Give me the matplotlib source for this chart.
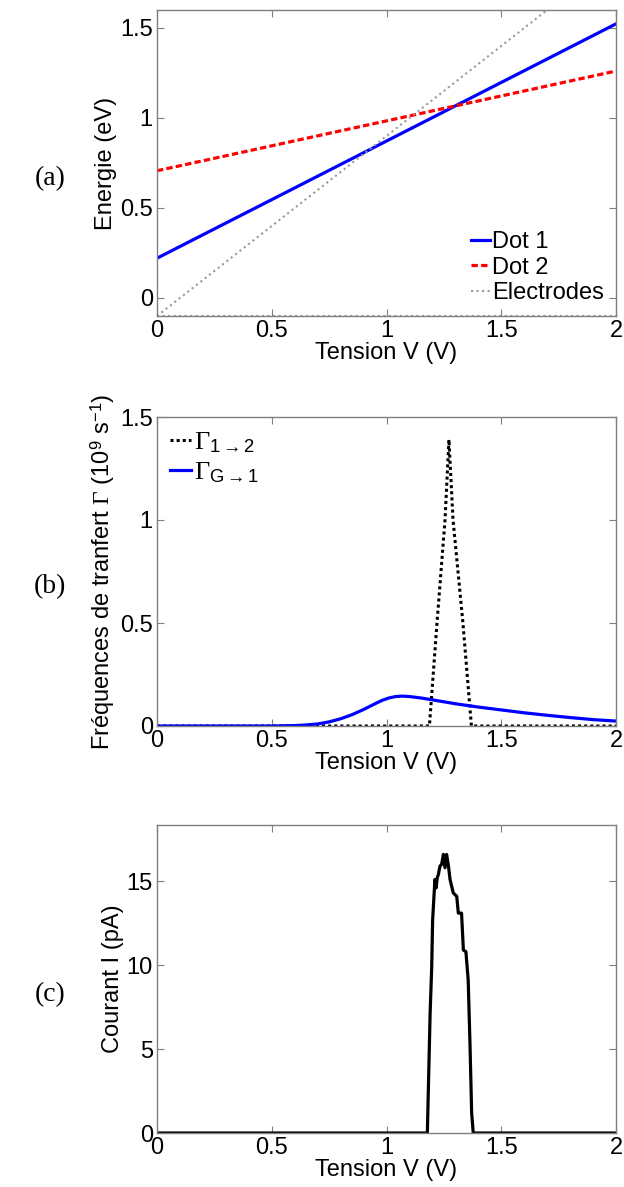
import matplotlib
matplotlib.use("Agg")
import matplotlib.pyplot as plt
import numpy as np

plt.rcParams['font.family'] = ['Liberation Sans', 'DejaVu Sans']
plt.rcParams['mathtext.fontset'] = 'custom'
plt.rcParams['mathtext.rm'] = 'Liberation Serif'
plt.rcParams['mathtext.sf'] = 'Liberation Sans'
plt.rcParams['mathtext.it'] = 'Liberation Serif:italic'

# ---- data (a) ----
v_lines = [0.0, 2.0]
dot1 = [0.221, 1.523]
dot2 = [0.707, 1.261]
electrode_v = [0.0, 1.70]
electrode_e = [-0.10, 1.60]
electrode0_e = [-0.10, -0.10]

# ---- data (b) ----
v_g12 = [0.0, 1.187, 1.22, 1.255, 1.272, 1.29, 1.333, 1.37, 2.0]
g12 = [0.0, 0.0, 0.5, 1.0, 1.39, 1.0, 0.5, 0.0, 0.0]
v_gG1 = [0.0, 0.5, 0.6, 0.65, 0.7, 0.75, 0.8, 0.85, 0.9, 0.95, 0.98, 1.01, 1.04,
         1.07, 1.1, 1.15, 1.2, 1.3, 1.4, 1.5, 1.6, 1.7, 1.8, 1.9, 2.0]
gG1 = [0.0, 0.0, 0.002, 0.005, 0.010, 0.020, 0.035, 0.055, 0.080, 0.108, 0.124,
       0.136, 0.143, 0.145, 0.143, 0.136, 0.127, 0.108, 0.092, 0.078, 0.064,
       0.052, 0.041, 0.031, 0.024]

# ---- data (c) ----
v_cur = [0.0, 1.178, 1.19, 1.197, 1.201, 1.211, 1.216, 1.221, 1.226, 1.233, 1.240,
         1.248, 1.255, 1.262, 1.270, 1.277, 1.291, 1.306, 1.313, 1.327, 1.335,
         1.346, 1.356, 1.364, 1.371, 1.378, 2.0]
cur = [0.0, 0.0, 7.1, 9.9, 12.7, 15.1, 14.6, 15.2, 15.4, 15.9, 16.0,
       16.6, 15.8, 16.6, 15.9, 15.1, 14.3, 14.1, 13.1, 13.1, 10.9,
       10.8, 9.1, 5.2, 1.2, 0.0, 0.0]

xticks = [0, 0.5, 1, 1.5, 2]
xticklabels = ['0', '0.5', '1', '1.5', '2']

W, H = 624, 1187
fig = plt.figure(figsize=(W / 100, H / 100), dpi=100)

def px_axes(top, bottom, left=157, right=616):
    return fig.add_axes([left / W, 1 - bottom / H, (right - left) / W, (bottom - top) / H])

FS = 17
axc = '#7f7f7f'

def style(ax, yt, ytl, ylim):
    ax.set_xlim(0, 2)
    ax.set_ylim(*ylim)
    ax.set_xticks(xticks)
    ax.set_xticklabels(xticklabels)
    ax.set_yticks(yt)
    ax.set_yticklabels(ytl)
    ax.tick_params(direction='in', top=True, right=True, length=5, width=0.8,
                   color=axc, labelsize=FS, pad=3)
    for s in ax.spines.values():
        s.set_color(axc)
        s.set_linewidth(1.0)
    ax.set_xlabel('Tension V (V)', fontsize=FS, labelpad=0)

# (a)
ax1 = px_axes(10, 316)
ax1.plot(v_lines, dot1, color='#0000ff', lw=2.3, label='Dot 1')
ax1.plot(v_lines, dot2, color='#ff0000', lw=2.3, ls=(0, (2, 1)), label='Dot 2')
ax1.plot(electrode_v, electrode_e, color='#999999', lw=1.5, ls=':', label='Electrodes')
ax1.plot(v_lines, electrode0_e, color='#999999', lw=1.5, ls=':')
style(ax1, [0, 0.5, 1, 1.5], ['0', '0.5', '1', '1.5'], (-0.1, 1.6))
ax1.set_ylabel('Energie (eV)', fontsize=FS, labelpad=2)
ax1.legend(loc='lower right', frameon=False, fontsize=FS, handlelength=0.8,
           handletextpad=0.1, labelspacing=0.15, borderaxespad=0.1)

# (b)
ax2 = px_axes(417, 726)
ax2.plot(v_g12, g12, color='black', lw=2.2, ls=(0, (1, 1)),
         label=r'$\Gamma_{\mathsf{1{\rightarrow}2}}$')
ax2.plot(v_gG1, gG1, color='#0000ff', lw=2.3,
         label=r'$\Gamma_{\mathsf{G{\rightarrow}1}}$')
style(ax2, [0, 0.5, 1, 1.5], ['0', '0.5', '1', '1.5'], (0, 1.5))
ax2.set_ylabel(r'Fréquences de tranfert $\Gamma$ (10$^{\mathsf{9}}$ s$^{\mathsf{-1}}$)',
               fontsize=FS, labelpad=2)
ax2.legend(loc='upper left', frameon=False, fontsize=FS + 2, handlelength=0.8,
           handletextpad=0.1, labelspacing=0.2, borderaxespad=0.1)

# (c)
ax3 = px_axes(825, 1133)
ax3.plot(v_cur, cur, color='black', lw=2.3)
style(ax3, [0, 5, 10, 15], ['0', '5', '10', '15'], (0, 18.35))
ax3.set_ylabel('Courant I (pA)', fontsize=FS, labelpad=2)

for lab, ax in (('(a)', ax1), ('(b)', ax2), ('(c)', ax3)):
    pos = ax.get_position()
    fig.text(50 / W, pos.y0 + pos.height * 0.45, lab, family='Liberation Serif',
             fontsize=20, ha='center', va='center')

fig.savefig('out.png', dpi=100)
